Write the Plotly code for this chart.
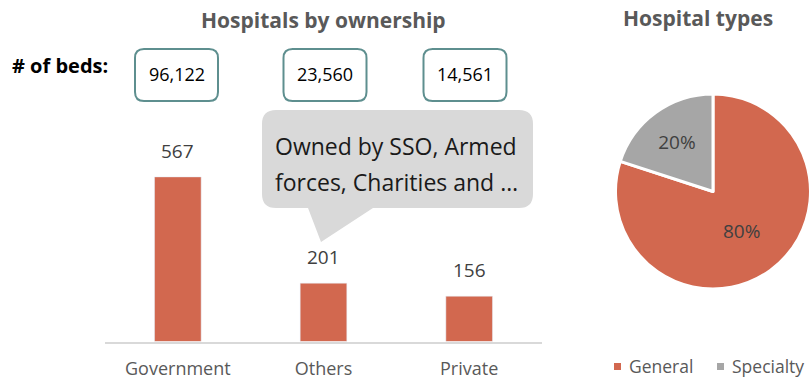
import plotly.graph_objects as go

# ---- data ----
owners = ["Government", "Others", "Private"]
hospitals = [567, 201, 156]
beds = [96122, 23560, 14561]
types = ["General", "Specialty"]
type_share = [80, 20]

W, H = 812, 382
def X(px): return px / W
def Y(py): return 1 - py / H

RED = "#D2684F"
GRAY = "#A6A6A6"
TXT = "#595959"
FONT = "Open Sans"

fig = go.Figure()

fig.add_trace(go.Bar(
    x=owners, y=hospitals, marker_color=RED, width=[0.32] * len(owners),
    xaxis="x", yaxis="y", showlegend=False, hoverinfo="skip"))

fig.add_trace(go.Pie(
    labels=types, values=type_share, sort=False, direction="clockwise",
    marker=dict(colors=[RED, GRAY], line=dict(color="white", width=3)),
    texttemplate="%{percent:.0%}", textposition="inside",
    insidetextfont=dict(family=FONT, size=19, color="#404040"),
    domain=dict(x=[X(615.5), X(810.5)], y=[Y(289), Y(94)]),
    showlegend=False, hoverinfo="skip"))

def ann(px, py, text, size, color, **kw):
    d = dict(x=X(px), y=Y(py), xref="paper", yref="paper", text=text,
             showarrow=False, xanchor="center", yanchor="middle",
             font=dict(family=FONT, size=size, color=color))
    d.update(kw)
    return d

annotations = []
# bar value labels
for o, v in zip(owners, hospitals):
    annotations.append(dict(x=o, y=v, xref="x", yref="y", text=str(v),
                            showarrow=False, yshift=26, yanchor="middle",
                            font=dict(family=FONT, size=19, color="#404040")))

# titles
annotations.append(ann(323, 20, "<b>Hospitals by ownership</b>", 21, TXT))
annotations.append(ann(698, 18, "<b>Hospital types</b>", 21, TXT))
annotations.append(ann(60, 65, "<b># of beds:</b>", 20, "#000000"))

shapes = []
def rrect(x0, y0, x1, y1, r):
    return (f"M {X(x0+r)},{Y(y0)} L {X(x1-r)},{Y(y0)} Q {X(x1)},{Y(y0)} {X(x1)},{Y(y0+r)} "
            f"L {X(x1)},{Y(y1-r)} Q {X(x1)},{Y(y1)} {X(x1-r)},{Y(y1)} "
            f"L {X(x0+r)},{Y(y1)} Q {X(x0)},{Y(y1)} {X(x0)},{Y(y1-r)} "
            f"L {X(x0)},{Y(y0+r)} Q {X(x0)},{Y(y0)} {X(x0+r)},{Y(y0)} Z")

box_centers = [176.5, 325, 465]
for cx, b in zip(box_centers, beds):
    shapes.append(dict(type="path", xref="paper", yref="paper",
                       path=rrect(cx - 41.5, 49, cx + 41.5, 101, 9),
                       line=dict(color="#5E8F8F", width=2), fillcolor="white"))
    annotations.append(ann(cx, 74, f"{b:,}", 18, "#000000"))

# callout
x0, y0, x1, y1, r = 262, 110, 533, 208, 14
callout = (f"M {X(x0+r)},{Y(y0)} L {X(x1-r)},{Y(y0)} Q {X(x1)},{Y(y0)} {X(x1)},{Y(y0+r)} "
           f"L {X(x1)},{Y(y1-r)} Q {X(x1)},{Y(y1)} {X(x1-r)},{Y(y1)} "
           f"L {X(373)},{Y(y1)} L {X(321)},{Y(242)} L {X(308)},{Y(y1)} "
           f"L {X(x0+r)},{Y(y1)} Q {X(x0)},{Y(y1)} {X(x0)},{Y(y1-r)} "
           f"L {X(x0)},{Y(y0+r)} Q {X(x0)},{Y(y0)} {X(x0+r)},{Y(y0)} Z")
shapes.append(dict(type="path", xref="paper", yref="paper", path=callout,
                   line=dict(width=0), fillcolor="#D9D9D9"))
for txt, yy in [("Owned by SSO, Armed", 146), ("forces, Charities and …", 182)]:
    annotations.append(ann(396, yy, txt, 23, "#1A1A1A"))

# pie legend (manual)
leg_x = [614, 717]
for lx, lab, col in zip(leg_x, types, [RED, GRAY]):
    shapes.append(dict(type="rect", xref="paper", yref="paper",
                       x0=X(lx), x1=X(lx + 7), y0=Y(370), y1=Y(363),
                       line=dict(width=0), fillcolor=col))
    annotations.append(ann(lx + 13, 366, lab, 17.5, TXT, xanchor="left"))

fig.update_layout(
    width=W, height=H, margin=dict(l=0, r=0, t=0, b=0),
    paper_bgcolor="white", plot_bgcolor="white",
    xaxis=dict(domain=[X(105), X(542)], showline=True, linecolor="#D9D9D9",
               linewidth=1.5, showgrid=False, ticks="",
               tickfont=dict(family=FONT, size=18, color=TXT),
               ticklabelstandoff=10, fixedrange=True),
    yaxis=dict(domain=[Y(341.5), Y(161.5)], range=[0, 620], visible=False,
               fixedrange=True),
    shapes=shapes, annotations=annotations,
)

fig.write_html("out.html", config={"displayModeBar": False})
